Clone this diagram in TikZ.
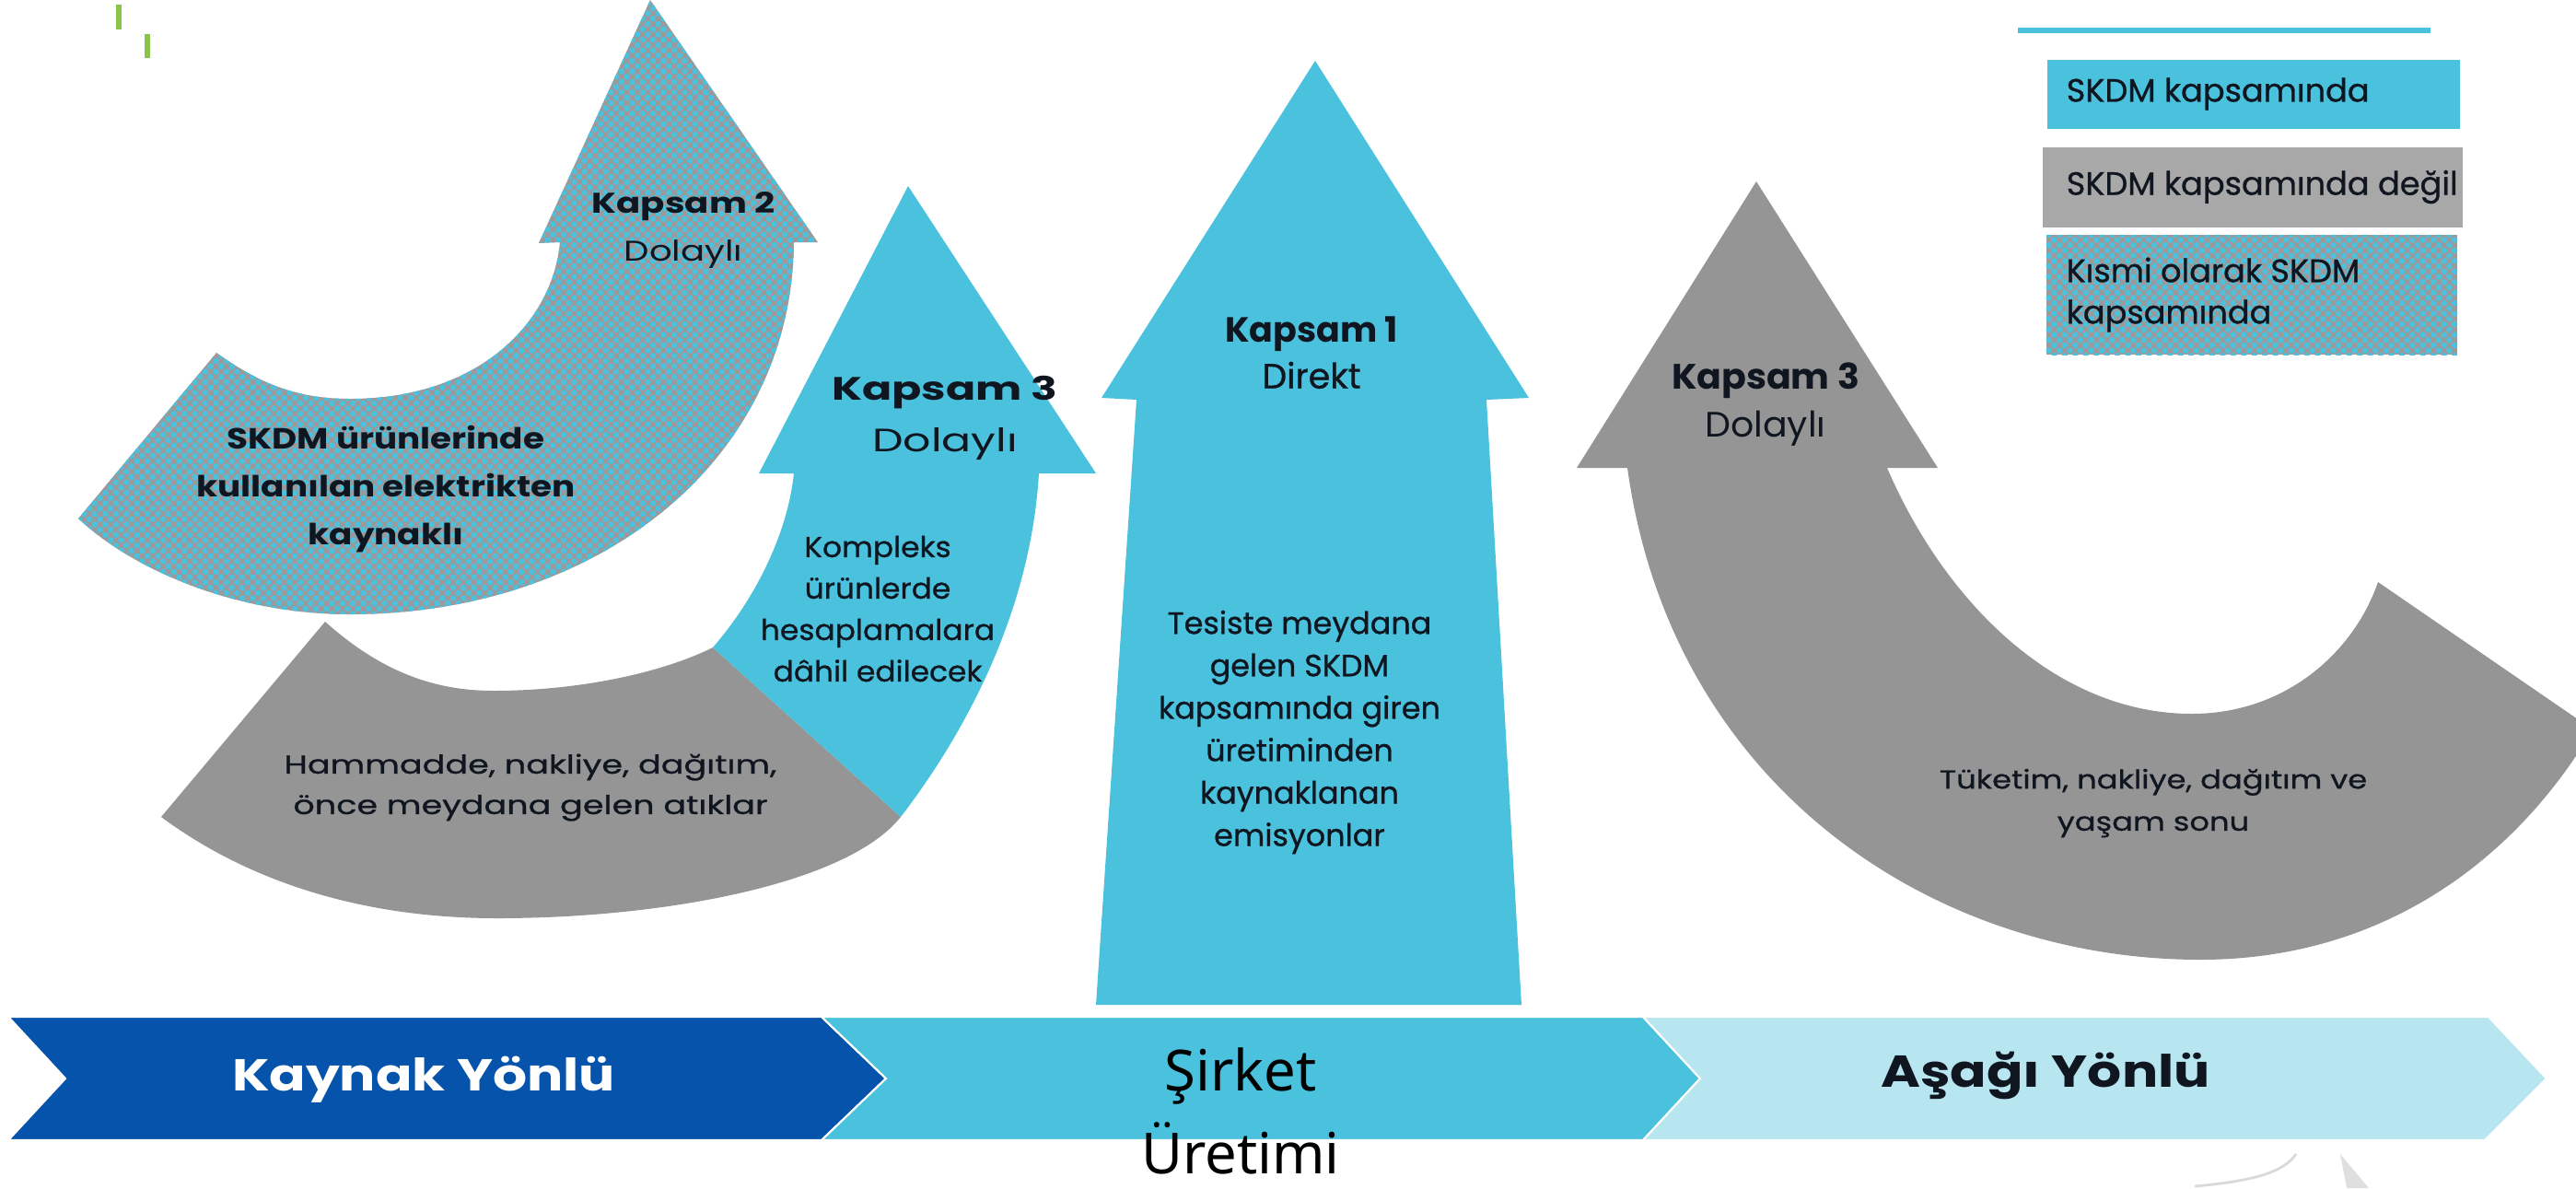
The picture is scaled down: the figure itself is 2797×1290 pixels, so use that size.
\documentclass[tikz,border=0pt]{standalone}
\usepackage{fontspec}
\setmainfont{Poppins}
\newfontfamily\popmed{Poppins}[FakeBold=0.8]
\newfontfamily\notosans{Noto Sans}
\usetikzlibrary{patterns.meta}
\definecolor{skdmcyan}{RGB}{74,193,221}
\definecolor{arrowgrey}{RGB}{149,149,149}
\definecolor{leggrey}{RGB}{168,168,168}
\definecolor{patgrey}{RGB}{160,151,153}
\definecolor{chevdark}{RGB}{5,83,170}
\definecolor{chevlight}{RGB}{183,229,240}
\definecolor{tickgreen}{RGB}{140,196,75}
\definecolor{txtdark}{RGB}{16,22,32}

\begin{document}
\begin{tikzpicture}[x=0.01cm,y=-0.01cm,
  lbl/.style={inner sep=0pt, align=center, text=txtdark},
  dotfill/.style={fill=patgrey, postaction={pattern={Dots[radius=0.95pt,distance=2.3pt,angle=45]}, pattern color=skdmcyan}},
  chev/.style={draw=white, line width=0.6pt}]
\useasboundingbox (0,0) rectangle (2797,1290);
\clip (0,0) rectangle (2797,1290);

% marks at the top
\draw[tickgreen, line width=1.7pt] (129,5)--(129,32);
\draw[tickgreen, line width=1.7pt] (160,37)--(160,63);

% Kapsam 2, patterned
\fill[dotfill] (706,0)--(888,263)--(862,263)
  .. controls (860,500) and (650,667) .. (380,667)
  .. controls (250,667) and (140,615) .. (85,563)
  -- (235,383)
  .. controls (280,415) and (320,433) .. (380,433)
  .. controls (520,433) and (600,350) .. (608,263)
  -- (585,264) -- cycle;

% Kapsam 3, upstream
\fill[arrowgrey] (774,703)--(978,887)
  .. controls (920,960) and (720,997) .. (540,997)
  .. controls (380,997) and (260,950) .. (175,887)
  -- (353,675)
  .. controls (420,735) and (480,750) .. (536,750)
  .. controls (630,750) and (720,730) .. (774,703) -- cycle;
\fill[skdmcyan] (986,202)--(1190,514)--(1128,514)
  .. controls (1120,650) and (1060,780) .. (978,887)
  -- (774,703)
  .. controls (820,650) and (855,580) .. (862,514)
  -- (824,514) -- cycle;

% Kapsam 1
\fill[skdmcyan] (1428,66)--(1660,432)--(1614,434)--(1652,1091)--(1190,1091)--(1234,434)--(1196,432)--cycle;

% Kapsam 3, downstream
\fill[arrowgrey] (1907,197)--(2104,508)--(2049,508)
  .. controls (2110,650) and (2230,775) .. (2380,775)
  .. controls (2480,775) and (2555,710) .. (2582,632)
  -- (2815,792)
  .. controls (2740,920) and (2600,1042) .. (2389,1042)
  .. controls (2100,1042) and (1815,855) .. (1767,508)
  -- (1712,508) -- cycle;

% legend
\draw[skdmcyan, line width=1.5pt] (2191,33)--(2639,33);
\fill[skdmcyan] (2223,65) rectangle (2671,140);
\fill[leggrey] (2218,160) rectangle (2674,247);
\fill[dotfill] (2222,255) rectangle (2668,385);

% bottom band
\fill[chevdark, chev] (9,1104)--(892,1104)--(962,1171)--(892,1238)--(9,1238)--(71,1171)--cycle;
\fill[skdmcyan, chev] (892,1104)--(1784,1104)--(1846,1171)--(1784,1238)--(892,1238)--(962,1171)--cycle;
\fill[chevlight, chev] (1784,1104)--(2702,1104)--(2765,1171)--(2698,1238)--(1784,1238)--(1846,1171)--cycle;
\fill[gray!25] (2541,1253)--(2572,1290)--(2548,1290)--cycle;
\draw[gray!30, line width=0.8pt] (2383,1288) .. controls (2450,1282) and (2480,1272) .. (2493,1253);

% texts
\node[lbl, font=\fontsize{8.8}{15}\selectfont, xscale=1.25] (kap2) at (742,250) {{\bfseries Kapsam 2}\\Dolaylı};
\node[lbl, font=\bfseries\fontsize{9}{14.8}\selectfont, xscale=1.18] (skdm) at (419,531) {SKDM ürünlerinde\\kullanılan elektrikten\\kaynaklı};
\node[lbl, font=\fontsize{10}{16}\selectfont, xscale=1.35] (kap3l) at (1026,454) {{\bfseries Kapsam 3}\\Dolaylı};
\node[lbl, font=\popmed\fontsize{8.9}{12.8}\selectfont, xscale=1.05] (kompl) at (953,661) {Kompleks\\ürünlerde\\hesaplamalara\\dâhil edilecek};
\node[lbl, font=\popmed\fontsize{8}{12.5}\selectfont, xscale=1.3] (hamm) at (576,855) {Hammadde, nakliye, dağıtım,\\önce meydana gelen atıklar};
\node[lbl, font=\fontsize{10.8}{14.2}\selectfont] (kap1) at (1424,383) {{\bfseries Kapsam 1}\\\popmed Direkt};
\node[lbl, font=\popmed\fontsize{9.5}{13.1}\selectfont] (tesis) at (1411,795) {Tesiste meydana\\gelen SKDM\\kapsamında giren\\üretiminden\\kaynaklanan\\emisyonlar};
\node[lbl, font=\fontsize{10.9}{14.8}\selectfont, xscale=1.03] (kap3r) at (1917,439) {{\bfseries Kapsam 3}\\Dolaylı};
\node[lbl, font=\popmed\fontsize{8}{13}\selectfont, xscale=1.2] (tuket) at (2338,872) {Tüketim, nakliye, dağıtım ve\\yaşam sonu};
\node[lbl, text=white, font=\bfseries\fontsize{13.8}{16}\selectfont, xscale=1.2] (kaynak) at (460,1172) {Kaynak Yönlü};
\node[lbl, font=\notosans\fontsize{17.5}{25.6}\selectfont, text=black] (sirket) at (1347,1206) {Şirket\\Üretimi};
\node[lbl, font=\bfseries\fontsize{13.8}{16}\selectfont, xscale=1.2] (asagi) at (2221,1168) {Aşağı Yönlü};
\node[lbl, anchor=west, font=\popmed\fontsize{10}{12.8}\selectfont] (leg1) at (2243,102) {SKDM kapsamında};
\node[lbl, anchor=west, font=\popmed\fontsize{10}{12.8}\selectfont] (leg2) at (2243,203) {SKDM kapsamında değil};
\node[lbl, anchor=west, align=left, font=\popmed\fontsize{10}{12.8}\selectfont] (leg3) at (2243,320) {Kısmi olarak SKDM\\kapsamında};
\end{tikzpicture}
\end{document}
